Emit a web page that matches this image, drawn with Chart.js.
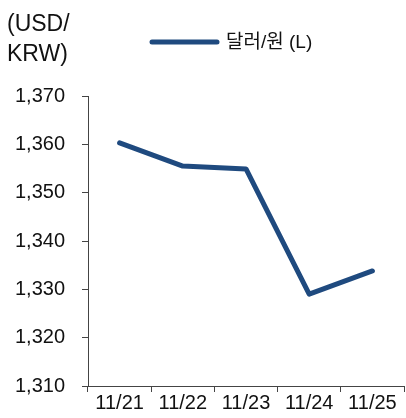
<!DOCTYPE html>
<html lang="ko">
<head>
    <meta charset="UTF-8">
    <title>달러/원</title>
    <script src="https://cdn.jsdelivr.net/npm/chart.js"></script>
    <style>
        html, body { margin: 0; padding: 0; background: #fff; }
        #wrap { width: 406px; height: 418px; }
    </style>
</head>
<body>
    <div id="wrap"><canvas id="fxChart" width="406" height="418"></canvas></div>

    <script>
        // data
        const dates = ['11/21', '11/22', '11/23', '11/24', '11/25'];
        const usdKrw = [1360.3, 1355.5, 1354.9, 1329.0, 1333.8];
        const seriesLabel = '달러/원 (L)';
        const unitLines = ['(USD/', 'KRW)'];

        const fontFamily = '"Liberation Sans", Arial, "Noto Sans CJK KR", sans-serif';
        const lineColor = '#1f4a7f';
        const axisColor = '#444';

        // unit label and legend drawn on top, the legend entry comes from the dataset
        const headerPlugin = {
            id: 'header',
            afterDraw(chart) {
                const ctx = chart.ctx;
                ctx.save();
                ctx.fillStyle = '#111';
                ctx.font = '23px ' + fontFamily;
                ctx.textBaseline = 'middle';
                ctx.textAlign = 'left';
                ctx.fillText(unitLines[0], 7, 25);
                ctx.fillText(unitLines[1], 7, 55);

                const ds = chart.data.datasets[0];
                ctx.strokeStyle = ds.borderColor;
                ctx.lineWidth = ds.borderWidth;
                ctx.lineCap = 'round';
                ctx.beginPath();
                ctx.moveTo(152, 42);
                ctx.lineTo(217, 42);
                ctx.stroke();
                ctx.font = '19px ' + fontFamily;
                ctx.fillText(ds.label, 226, 43);
                ctx.restore();
            }
        };

        new Chart(document.getElementById('fxChart'), {
            type: 'line',
            data: {
                labels: dates,
                datasets: [{
                    label: seriesLabel,
                    data: usdKrw,
                    borderColor: lineColor,
                    borderWidth: 5,
                    borderJoinStyle: 'round',
                    borderCapStyle: 'round',
                    pointRadius: 0,
                    tension: 0
                }]
            },
            options: {
                responsive: false,
                animation: false,
                layout: { padding: { top: 96, left: 14, right: 2, bottom: 0 } },
                plugins: {
                    legend: { display: false },
                    tooltip: { enabled: false }
                },
                scales: {
                    x: {
                        offset: true,
                        afterFit: s => { s.height = 32; },
                        grid: {
                            offset: true,
                            drawOnChartArea: false,
                            drawTicks: true,
                            tickLength: 6,
                            color: axisColor
                        },
                        border: { color: axisColor, width: 1 },
                        ticks: {
                            color: '#111',
                            font: { family: fontFamily, size: 20 },
                            padding: -1,
                            maxRotation: 0
                        }
                    },
                    y: {
                        min: 1310,
                        max: 1370,
                        afterFit: s => { s.width = 74; },
                        grid: {
                            drawOnChartArea: false,
                            drawTicks: true,
                            tickLength: 6,
                            color: axisColor
                        },
                        border: { color: axisColor, width: 1 },
                        ticks: {
                            stepSize: 10,
                            color: '#111',
                            font: { family: fontFamily, size: 20 },
                            padding: 17,
                            callback: v => v.toLocaleString('en-US')
                        }
                    }
                }
            },
            plugins: [headerPlugin]
        });
    </script>
</body>
</html>
